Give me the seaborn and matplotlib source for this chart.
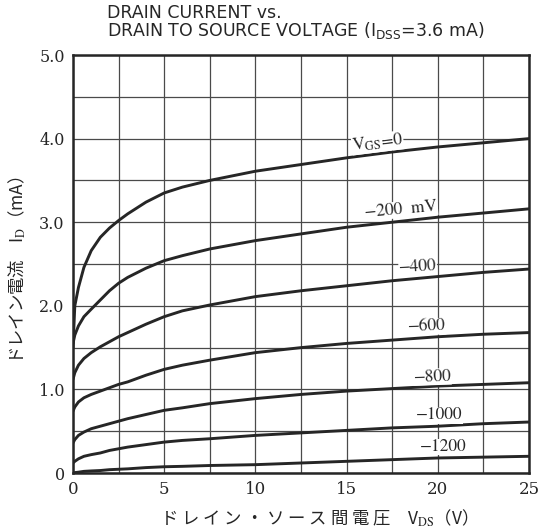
import matplotlib
matplotlib.use("Agg")
import matplotlib.pyplot as plt
import numpy as np
import pandas as pd
import seaborn as sns

# Drain-source voltage sample points (V)
vds = [0, 0.1, 0.3, 0.6, 1.0, 1.5, 2.0, 2.5, 3.0, 4.0, 5.0, 6.0, 7.5,
       10.0, 12.5, 15.0, 17.5, 20.0, 22.5, 25.0]

# Drain current (mA) for each gate-source voltage
id_vgs_0 = [1.50, 2.00, 2.22, 2.46, 2.66, 2.82, 2.93, 3.02, 3.10, 3.24, 3.35, 3.42, 3.50,
            3.61, 3.69, 3.77, 3.84, 3.90, 3.95, 4.00]
id_vgs_m200 = [1.55, 1.65, 1.76, 1.87, 1.96, 2.07, 2.18, 2.27, 2.34, 2.45, 2.54, 2.60, 2.68,
               2.78, 2.86, 2.94, 3.00, 3.06, 3.11, 3.16]
id_vgs_m400 = [1.12, 1.20, 1.29, 1.37, 1.44, 1.51, 1.57, 1.63, 1.68, 1.78, 1.87, 1.94, 2.01,
               2.11, 2.18, 2.24, 2.30, 2.35, 2.40, 2.44]
id_vgs_m600 = [0.74, 0.79, 0.85, 0.90, 0.94, 0.98, 1.02, 1.06, 1.09, 1.17, 1.24, 1.29, 1.35,
               1.44, 1.50, 1.55, 1.59, 1.63, 1.66, 1.68]
id_vgs_m800 = [0.36, 0.40, 0.45, 0.49, 0.53, 0.56, 0.59, 0.62, 0.65, 0.70, 0.75, 0.78, 0.83,
               0.89, 0.94, 0.98, 1.01, 1.04, 1.06, 1.08]
id_vgs_m1000 = [0.12, 0.14, 0.17, 0.20, 0.22, 0.24, 0.27, 0.29, 0.31, 0.34, 0.37, 0.39, 0.41,
                0.45, 0.48, 0.51, 0.54, 0.56, 0.59, 0.61]
id_vgs_m1200 = [0.00, 0.005, 0.01, 0.02, 0.025, 0.03, 0.04, 0.045, 0.05, 0.065, 0.075, 0.08, 0.09,
                0.10, 0.12, 0.14, 0.16, 0.18, 0.19, 0.20]

vgs_levels = [0, -200, -400, -600, -800, -1000, -1200]
curve_labels = [r"V$_{\rm GS}$=0", "−200  mV", "−400", "−600", "−800", "−1000", "−1200"]
label_v = [16.7, 18.0, 18.9, 19.4, 19.7, 20.1, 20.3]
label_i = [3.95, 3.15, 2.47, 1.75, 1.15, 0.69, 0.31]
label_rot = [7, 5, 3, 2, 2, 0, 0]

x_ticks = [0, 5, 10, 15, 20, 25]
y_ticks = [0, 1.0, 2.0, 3.0, 4.0, 5.0]
y_tick_labels = ["0", "1.0", "2.0", "3.0", "4.0", "5.0"]

series = [id_vgs_0, id_vgs_m200, id_vgs_m400, id_vgs_m600,
          id_vgs_m800, id_vgs_m1000, id_vgs_m1200]
df = pd.concat(
    [pd.DataFrame({"VDS": vds, "ID": s, "VGS": g}) for s, g in zip(series, vgs_levels)],
    ignore_index=True,
)

sns.set_style("white")
plt.rcParams["mathtext.fontset"] = "stix"
cjk = ["Noto Sans CJK JP", "DejaVu Sans"]
ink = "#262626"

fig = plt.figure(figsize=(5.39, 5.30), dpi=100)
ax = fig.add_axes([0.1354, 0.1075, 0.8460, 0.7887])

sns.lineplot(data=df, x="VDS", y="ID", hue="VGS", units="VGS", estimator=None,
             palette=[ink] * len(vgs_levels), linewidth=2.1,
             legend=False, ax=ax, zorder=3)

ax.set_xlim(0, 25)
ax.set_ylim(0, 5.0)
ax.set_xticks(x_ticks)
ax.set_yticks(y_ticks)
ax.set_yticklabels(y_tick_labels)
ax.set_xticks(np.arange(0, 25.01, 2.5), minor=True)
ax.set_yticks(np.arange(0, 5.01, 0.5), minor=True)
ax.grid(which="both", color="#4a4a4a", linewidth=0.9, zorder=1)
ax.set_axisbelow(True)
ax.tick_params(which="both", length=0, pad=6, colors=ink)
for lab in ax.get_xticklabels():
    lab.set_fontfamily("DejaVu Serif")
    lab.set_fontsize(12)
for lab in ax.get_yticklabels():
    lab.set_fontfamily("DejaVu Serif")
    lab.set_fontsize(11.5)
for sp in ax.spines.values():
    sp.set_linewidth(1.8)
    sp.set_color(ink)

ax.set_xlabel("")
ax.set_ylabel("")

for txt, v, i, r in zip(curve_labels, label_v, label_i, label_rot):
    ax.text(v, i, txt, fontsize=12.5, fontfamily="STIXGeneral", color=ink,
            ha="center", va="center", rotation=r, zorder=4,
            bbox=dict(facecolor="white", edgecolor="none", pad=0.3))

fig.text(0.583, 0.023, "ド レ イ ン ・ ソ ー ス 間 電 圧　V$_{\\rm DS}$（V）", family=cjk,
         fontsize=12.5, ha="center", va="center", color=ink)
fig.text(0.032, 0.49, "ドレイン電流　I$_{\\rm D}$（mA）", family=cjk,
         fontsize=12.5, ha="center", va="center", rotation=90, color=ink)

fig.text(0.199, 0.9575,
         "DRAIN CURRENT vs.\nDRAIN TO SOURCE VOLTAGE (I$_{\\rm DSS}$=3.6 mA)",
         family="DejaVu Sans", fontsize=12.5, ha="left", va="center", color=ink,
         linespacing=0.9, math_fontfamily="dejavusans")

fig.savefig("out.png", dpi=100, facecolor="white")
